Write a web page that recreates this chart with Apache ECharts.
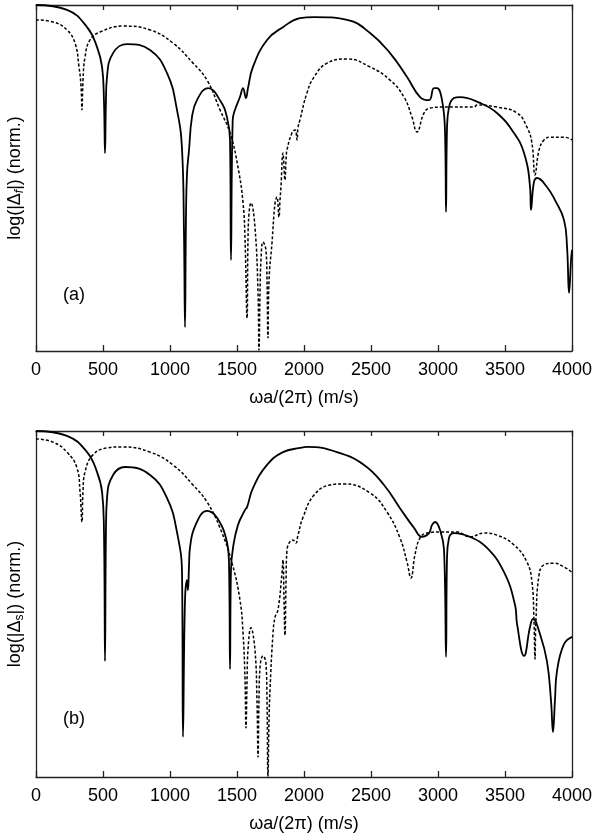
<!DOCTYPE html>
<html><head><meta charset="utf-8">
<script src="https://cdn.jsdelivr.net/npm/echarts@6/dist/echarts.min.js"></script>
<style>html,body{margin:0;padding:0;background:#fff}#c{width:597px;height:834px}</style>
</head><body><div id="c"></div>
<script>
const xMin = 0, xMax = 4000, xStep = 500;
const xName = 'ωa/(2π) (m/s)';
const panelLabels = ['(a)', '(b)'];
const yNames = ['log(|Δ{fi|f}|) (norm.)', 'log(|Δ{su|s}|) (norm.)'];

// panel (a): solid curve [freq, normalized log value]
const aSolid = [
[0,1.0],[231,0.986],[381,0.936],[455,0.879],[493,0.821],[507,0.725],[515,0.572],[522,0.725],[530,0.792],
[575,0.861],[679,0.887],[851,0.870],[978,0.803],[1052,0.697],[1090,0.581],[1104,0.35],[1112,0.069],
[1119,0.379],[1127,0.514],[1142,0.581],[1164,0.676],[1201,0.725],[1284,0.760],[1373,0.725],[1425,0.676],
[1448,0.610],[1455,0.263],[1468,0.668],[1485,0.697],[1522,0.734],[1545,0.760],[1567,0.731],[1582,0.760],
[1619,0.821],[1724,0.899],[1843,0.936],[1970,0.962],[2075,0.965],[2321,0.957],[2493,0.919],[2642,0.861],
[2769,0.792],[2866,0.734],[2933,0.725],[2970,0.760],[2993,0.760],[3030,0.725],[3052,0.639],[3060,0.402],
[3067,0.639],[3082,0.705],[3119,0.731],[3164,0.734],[3313,0.717],[3440,0.688],[3567,0.630],[3642,0.572],
[3687,0.474],[3694,0.408],[3716,0.488],[3739,0.500],[3813,0.474],[3873,0.436],[3940,0.379],[3963,0.301],
[3978,0.168],[3993,0.263],[4000,0.292]
];
// panel (a): dashed curve
const aDashed = [
[0,0.957],[127,0.951],[231,0.928],[291,0.890],[321,0.821],[336,0.766],[343,0.697],[351,0.783],[366,0.850],
[403,0.899],[478,0.922],[649,0.939],[851,0.928],[1022,0.890],[1172,0.832],[1276,0.783],[1373,0.697],
[1448,0.630],[1507,0.532],[1545,0.428],[1560,0.321],[1575,0.095],[1582,0.321],[1590,0.399],[1604,0.428],
[1634,0.358],[1657,0.168],[1664,0.003],[1672,0.176],[1679,0.263],[1694,0.315],[1716,0.292],[1724,0.205],
[1731,0.038],[1739,0.205],[1761,0.312],[1784,0.428],[1798,0.445],[1813,0.387],[1821,0.436],[1828,0.474],
[1843,0.572],[1858,0.494],[1866,0.552],[1873,0.581],[1910,0.630],[1933,0.639],[1948,0.610],[1955,0.645],
[1970,0.668],[2022,0.746],[2075,0.792],[2172,0.832],[2321,0.844],[2493,0.821],[2642,0.783],[2746,0.734],
[2806,0.676],[2843,0.633],[2896,0.688],[2940,0.702],[3045,0.705],[3269,0.705],[3291,0.711],[3440,0.705],
[3590,0.688],[3664,0.647],[3701,0.601],[3724,0.509],[3754,0.581],[3791,0.610],[3836,0.618],[3940,0.618],
[4000,0.610]
];
// panel (b): solid curve
const bSolid = [
[0,1.0],[231,0.986],[381,0.939],[455,0.882],[493,0.824],[507,0.714],[515,0.335],[522,0.714],[530,0.806],
[575,0.873],[664,0.896],[851,0.873],[978,0.806],[1052,0.708],[1090,0.584],[1097,0.116],[1112,0.512],
[1127,0.569],[1134,0.540],[1142,0.613],[1149,0.662],[1201,0.737],[1276,0.769],[1351,0.749],[1425,0.679],
[1440,0.621],[1448,0.312],[1455,0.598],[1470,0.662],[1507,0.728],[1560,0.772],[1575,0.780],[1619,0.835],
[1724,0.902],[1843,0.939],[1970,0.951],[2022,0.954],[2246,0.939],[2448,0.902],[2597,0.844],[2716,0.777],
[2821,0.720],[2881,0.694],[2933,0.705],[2955,0.728],[2978,0.737],[3015,0.714],[3045,0.656],[3060,0.347],
[3067,0.627],[3082,0.691],[3119,0.705],[3239,0.694],[3366,0.662],[3493,0.592],[3575,0.497],[3590,0.442],
[3642,0.350],[3687,0.434],[3709,0.457],[3761,0.413],[3813,0.335],[3843,0.223],[3858,0.130],[3873,0.223],
[3888,0.306],[3940,0.384],[4000,0.405]
];
// panel (b): dashed curve
const bDashed = [
[0,0.977],[127,0.968],[231,0.939],[306,0.893],[328,0.829],[343,0.737],[351,0.829],[366,0.882],[425,0.931],
[530,0.951],[642,0.954],[851,0.939],[1022,0.902],[1172,0.844],[1276,0.795],[1373,0.720],[1463,0.618],
[1522,0.512],[1545,0.416],[1560,0.280],[1567,0.142],[1575,0.280],[1582,0.367],[1604,0.431],[1634,0.367],
[1649,0.223],[1657,0.058],[1664,0.223],[1672,0.318],[1694,0.350],[1716,0.329],[1724,0.223],[1731,0.0],
[1739,0.165],[1746,0.251],[1769,0.416],[1784,0.462],[1806,0.483],[1836,0.590],[1843,0.627],[1851,0.512],
[1858,0.410],[1866,0.569],[1873,0.656],[1918,0.685],[1940,0.676],[1955,0.699],[1993,0.751],[2075,0.815],
[2194,0.844],[2299,0.847],[2493,0.821],[2619,0.766],[2716,0.691],[2769,0.621],[2798,0.575],[2828,0.642],
[2866,0.691],[2918,0.705],[3015,0.708],[3142,0.708],[3239,0.694],[3343,0.705],[3440,0.699],[3567,0.671],
[3664,0.621],[3701,0.564],[3716,0.454],[3724,0.341],[3731,0.454],[3754,0.584],[3791,0.613],[3866,0.618],
[3940,0.607],[4000,0.592]
];

const FONT = 'Liberation Sans, Arial, Helvetica, sans-serif';
const AX = {color:'#222', width:1.3};
const grids = [
  {left:36, top:5, width:536, height:346, containLabel:false, outerBoundsMode:'none'},
  {left:36, top:431, width:536, height:346, containLabel:false, outerBoundsMode:'none'}
];
const xAxes = [], yAxes = [];
grids.forEach((g, i) => {
  xAxes.push({type:'value', gridIndex:i, min:xMin, max:xMax, interval:xStep, position:'bottom',
    name:xName, nameLocation:'middle', nameGap:38,
    nameTextStyle:{fontFamily:FONT, fontSize:18, color:'#000'},
    axisLine:{show:true, onZero:false, lineStyle:AX},
    axisTick:{show:true, inside:true, length:6, lineStyle:AX},
    axisLabel:{show:true, margin:10, fontFamily:FONT, fontSize:18, color:'#000', formatter:v => String(v)},
    splitLine:{show:false}});
  xAxes.push({type:'value', gridIndex:i, min:xMin, max:xMax, interval:xStep, position:'top',
    axisLine:{show:true, onZero:false, lineStyle:AX},
    axisTick:{show:true, inside:true, length:5, lineStyle:AX},
    axisLabel:{show:false}, splitLine:{show:false}});
  yAxes.push({type:'value', gridIndex:i, min:0, max:1, position:'left',
    name:yNames[i], nameLocation:'middle', nameGap:10, nameRotate:90,
    nameTextStyle:{fontFamily:FONT, fontSize:18, color:'#000', lineHeight:22,
      rich:{
        fi:{fontFamily:FONT, fontSize:12, fontStyle:'italic', color:'#000', verticalAlign:'bottom', lineHeight:13},
        su:{fontFamily:FONT, fontSize:12, color:'#000', verticalAlign:'bottom', lineHeight:13}
      }},
    axisLine:{show:true, onZero:false, lineStyle:AX},
    axisTick:{show:false}, axisLabel:{show:false}, splitLine:{show:false}});
  yAxes.push({type:'value', gridIndex:i, min:0, max:1, position:'right',
    axisLine:{show:true, onZero:false, lineStyle:AX},
    axisTick:{show:false}, axisLabel:{show:false}, splitLine:{show:false}});
});

function lineSeries(data, gi, dashed){
  return {type:'line', xAxisIndex:gi*2, yAxisIndex:gi*2, data:data, symbol:'none', showSymbol:false,
    smooth:0.45, silent:true, animation:false,
    lineStyle:dashed ? {color:'#000', width:1.5, type:[3,2]} : {color:'#000', width:1.8}};
}

const option = {
  animation:false,
  backgroundColor:'#fff',
  grid:grids,
  xAxis:xAxes,
  yAxis:yAxes,
  series:[
    lineSeries(aDashed, 0, true), lineSeries(aSolid, 0, false),
    lineSeries(bDashed, 1, true), lineSeries(bSolid, 1, false)
  ],
  graphic:[
    {type:'text', left:63, top:286, style:{text:panelLabels[0], fontFamily:FONT, fontSize:18, fill:'#000'}},
    {type:'text', left:63, top:710, style:{text:panelLabels[1], fontFamily:FONT, fontSize:18, fill:'#000'}}
  ]
};
const chart = echarts.init(document.getElementById('c'), null, {renderer:'canvas'});
chart.setOption(option);
</script>
</body></html>
